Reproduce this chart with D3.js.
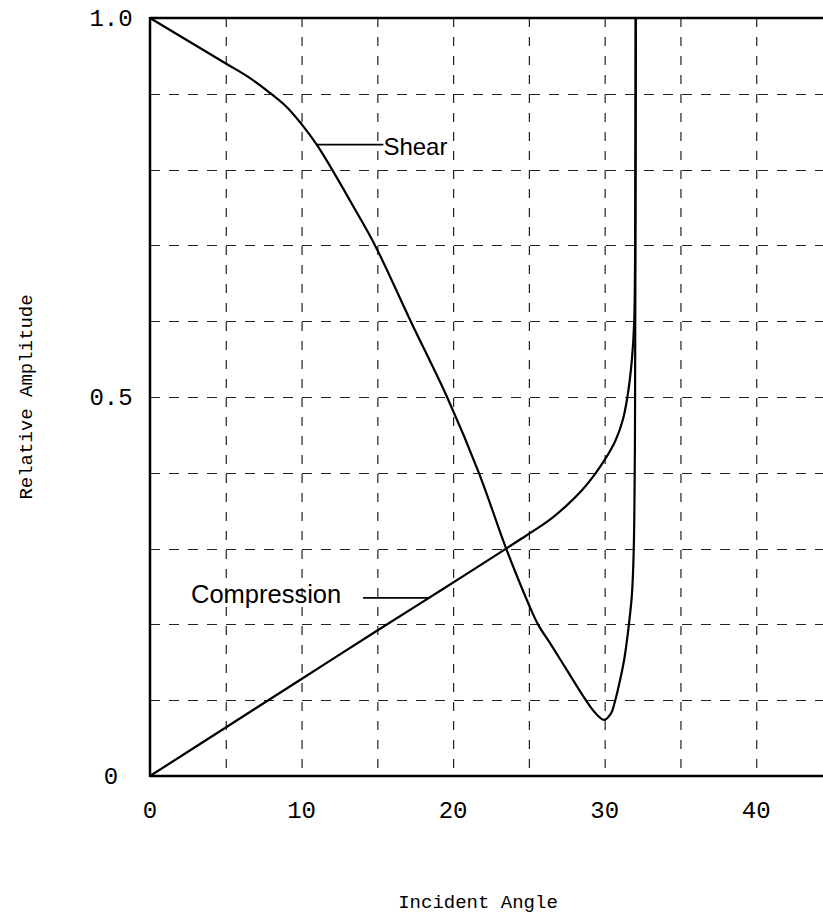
<!DOCTYPE html>
<html>
<head>
<meta charset="utf-8">
<script src="https://cdn.jsdelivr.net/npm/d3@7"></script>
<style>
    html, body { margin: 0; padding: 0; background: #ffffff; }
    svg { display: block; }
</style>
</head>
<body>
<div id="chart"></div>
<script>
// values
var shearAngle = [0, 2.5, 5, 6.5, 7.8, 9, 10, 11, 11.9, 13.4, 14.85, 17.2, 19.6, 21.7, 23.5, 25, 25.6, 26.5, 27.5, 28.5, 29.3, 29.95, 30.4, 30.7, 31.0, 31.3, 31.6, 31.8, 31.92, 32.0, 32.03, 32.05];
var shearAmp = [1.0, 0.97, 0.94, 0.922, 0.903, 0.883, 0.86, 0.833, 0.804, 0.752, 0.7, 0.6, 0.5, 0.4, 0.3, 0.226, 0.2, 0.172, 0.14, 0.108, 0.085, 0.074, 0.082, 0.1, 0.125, 0.155, 0.2, 0.24, 0.3, 0.45, 0.7, 1.0];

var compAngle = [0, 5, 10, 15, 19.2, 23.5, 24.5, 25.5, 26.5, 27.5, 28.5, 29.2, 30, 30.7, 31.2, 31.5, 31.8, 31.95, 32.02, 32.05];
var compAmp = [0, 0.064, 0.128, 0.192, 0.245, 0.3, 0.313, 0.326, 0.34, 0.357, 0.377, 0.394, 0.417, 0.442, 0.47, 0.5, 0.55, 0.6, 0.75, 1.0];

var xGridValues = [5, 10, 15, 20, 25, 30, 35, 40, 45];
var yGridValues = [0.1, 0.2, 0.3, 0.4, 0.5, 0.6, 0.7, 0.8, 0.9];
var xTickLabels = [0, 10, 20, 30, 40];
var yTickLabels = [0, 0.5, 1.0];

var width = 823, height = 914;
var grid = {leftEdge: 150, rightEdge: 832, top: 18, bottom: 776};

var svg = d3.select('#chart').append('svg')
        .attr('width', width)
        .attr('height', height);

var x = d3.scaleLinear().domain([0, 45]).range([grid.leftEdge, grid.rightEdge]);
var y = d3.scaleLinear().domain([0, 1]).range([grid.bottom, grid.top]);

var monoFont = '"Liberation Mono", "Courier New", monospace';
var sansFont = '"Liberation Sans", Arial, Helvetica, sans-serif';

// dashed grid
var gridG = svg.append('g').attr('class', 'grid');

gridG.selectAll('line.vgrid').data(xGridValues).enter().append('line')
        .attr('class', 'vgrid')
        .attr('x1', function(d){ return x(d) + .5; })
        .attr('x2', function(d){ return x(d) + .5; })
        .attr('y1', grid.top)
        .attr('y2', grid.bottom)
        .attr('stroke', '#222222')
        .attr('stroke-width', 1.2)
        .attr('stroke-dasharray', '9,10');

gridG.selectAll('line.hgrid').data(yGridValues).enter().append('line')
        .attr('class', 'hgrid')
        .attr('x1', grid.leftEdge)
        .attr('x2', grid.rightEdge)
        .attr('y1', function(d){ return Math.round(y(d)) + .5; })
        .attr('y2', function(d){ return Math.round(y(d)) + .5; })
        .attr('stroke', '#222222')
        .attr('stroke-width', 1.2)
        .attr('stroke-dasharray', '10,9');

// frame: left, top and bottom (right side runs off the page)
var frame = svg.append('g').attr('class', 'frame');
frame.append('line')
        .attr('x1', x(0)).attr('x2', x(0))
        .attr('y1', y(1) - 1).attr('y2', y(0) + 1)
        .attr('stroke', '#000').attr('stroke-width', 2.5);
frame.append('line')
        .attr('x1', x(0)).attr('x2', grid.rightEdge)
        .attr('y1', y(1)).attr('y2', y(1))
        .attr('stroke', '#000').attr('stroke-width', 2.5);
frame.append('line')
        .attr('x1', x(0)).attr('x2', grid.rightEdge)
        .attr('y1', y(0)).attr('y2', y(0))
        .attr('stroke', '#000').attr('stroke-width', 2.5);

// tick labels
svg.append('g').selectAll('text').data(xTickLabels).enter().append('text')
        .attr('x', function(d){ return x(d); })
        .attr('y', grid.bottom + 42)
        .attr('text-anchor', 'middle')
        .style('font', '24px ' + monoFont)
        .text(function(d){ return d; });

svg.append('g').selectAll('text').data(yTickLabels).enter().append('text')
        .attr('x', 111)
        .attr('y', function(d){ return y(d) + 8; })
        .attr('text-anchor', 'middle')
        .style('font', '24px ' + monoFont)
        .text(function(d){ return d === 0 ? '0' : d.toFixed(1); });

// axis titles
svg.append('text')
        .attr('x', 478)
        .attr('y', 908)
        .attr('text-anchor', 'middle')
        .style('font', '19px ' + monoFont)
        .text('Incident Angle');

svg.append('text')
        .attr('text-anchor', 'middle')
        .attr('transform', 'translate(32,' + ((grid.top + grid.bottom) / 2) + ')rotate(270)')
        .style('font', '19px ' + monoFont)
        .text('Relative Amplitude');

// curves
var line = d3.line()
        .x(function(d){ return x(d[0]); })
        .y(function(d){ return y(d[1]); })
        .curve(d3.curveCatmullRom.alpha(0.5));

var shear = d3.zip(shearAngle, shearAmp);
var comp = d3.zip(compAngle, compAmp);

var curves = svg.append('g').attr('class', 'curves');
curves.append('path')
        .attr('d', line(comp))
        .attr('fill', 'none')
        .attr('stroke', '#000')
        .attr('stroke-width', 2.2);
curves.append('path')
        .attr('d', line(shear))
        .attr('fill', 'none')
        .attr('stroke', '#000')
        .attr('stroke-width', 2.2);

// annotations
var notes = svg.append('g').attr('class', 'notes');
notes.append('line')
        .attr('x1', x(11)).attr('x2', x(15.4))
        .attr('y1', y(0.833)).attr('y2', y(0.833))
        .attr('stroke', '#000').attr('stroke-width', 1.6);
notes.append('text')
        .attr('x', x(15.4))
        .attr('y', y(0.833) + 10)
        .style('font', '24px ' + sansFont)
        .text('Shear');

notes.append('line')
        .attr('x1', x(14.06)).attr('x2', x(18.4))
        .attr('y1', y(0.235)).attr('y2', y(0.235))
        .attr('stroke', '#000').attr('stroke-width', 1.6);
notes.append('text')
        .attr('x', 191)
        .attr('y', y(0.235) + 5)
        .style('font', '25.5px ' + sansFont)
        .text('Compression');
</script>
</body>
</html>
